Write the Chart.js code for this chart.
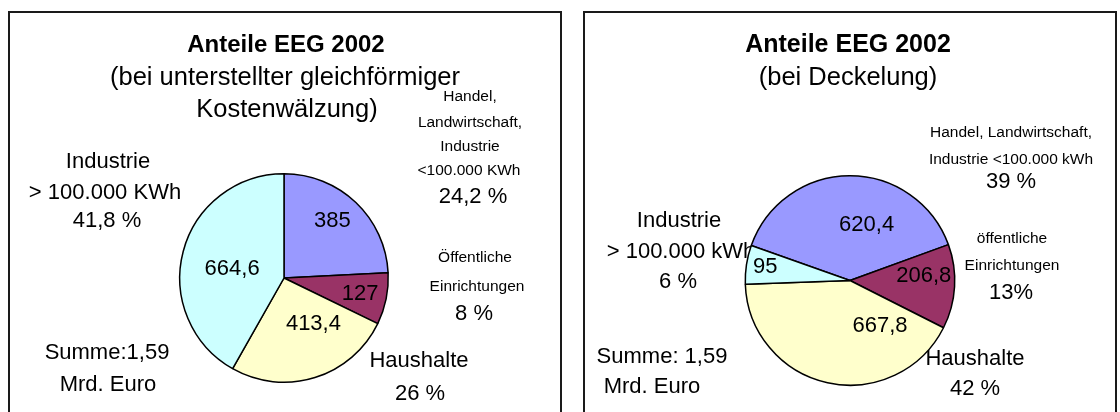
<!DOCTYPE html>
<html lang="de">
<head>
<meta charset="utf-8">
<title>Anteile EEG 2002</title>
<script src="https://cdn.jsdelivr.net/npm/chart.js@4.4.1/dist/chart.umd.min.js"></script>
<style>
  html, body { margin: 0; padding: 0; background: #fff; }
  body { width: 1120px; height: 412px; position: relative; overflow: hidden; }
  .panel { position: absolute; top: 11px; height: 430px; box-sizing: border-box;
           border: 2px solid #1a1a1a; background: #fff; }
  #panelLeft { left: 8px; width: 554px; }
  #panelRight { left: 583px; width: 534px; }
  canvas { position: absolute; top: 0; }
  #chartLeft { left: 0; }
  #chartRight { left: 560px; }
</style>
</head>
<body>
<div class="panel" id="panelLeft"></div>
<div class="panel" id="panelRight"></div>
<canvas id="chartLeft" width="560" height="412"></canvas>
<canvas id="chartRight" width="560" height="412"></canvas>
<script>
// --- data ---
const categories = [
    'Handel, Landwirtschaft, Industrie <100.000 kWh',
    'Öffentliche Einrichtungen',
    'Haushalte',
    'Industrie > 100.000 kWh'
];
const valuesGleich = [385, 127, 413.4, 664.6];   // Mio. Euro, gleichförmige Wälzung
const valuesDeckel = [620.4, 206.8, 667.8, 95];  // Mio. Euro, bei Deckelung
const sliceColors = ['#9999FF', '#993366', '#FFFFCC', '#CCFFFF'];

const FONT = '"Liberation Sans", Arial, Helvetica, sans-serif';

function fmt(v) {
    return String(v).replace('.', ',');
}

// texts around each pie (layout only)
const textLeft = [
    { text: 'Anteile EEG 2002', x: 286, y: 45, size: 24, bold: true },
    { text: '(bei unterstellter gleichförmiger', x: 285, y: 78, size: 25.5 },
    { text: 'Kostenwälzung)', x: 287, y: 110, size: 25.5 },
    { text: 'Handel,', x: 470, y: 97, size: 15.5 },
    { text: 'Landwirtschaft,', x: 470, y: 123, size: 15.5 },
    { text: 'Industrie', x: 470, y: 147, size: 15.5 },
    { text: '<100.000 KWh', x: 469, y: 171, size: 15.5 },
    { text: '24,2 %', x: 473, y: 197, size: 22 },
    { text: 'Industrie', x: 108, y: 162, size: 22 },
    { text: '> 100.000 KWh', x: 105, y: 193, size: 22 },
    { text: '41,8 %', x: 107, y: 221, size: 22 },
    { text: 'Öffentliche', x: 475, y: 258, size: 15.5 },
    { text: 'Einrichtungen', x: 477, y: 287, size: 15.5 },
    { text: '8 %', x: 474, y: 314, size: 22 },
    { text: 'Summe:1,59', x: 107, y: 353, size: 22 },
    { text: 'Mrd. Euro', x: 108, y: 385, size: 22 },
    { text: 'Haushalte', x: 419, y: 361, size: 22 },
    { text: '26 %', x: 420, y: 394, size: 22 }
];

const textRight = [
    { text: 'Anteile EEG 2002', x: 288, y: 45, size: 25, bold: true },
    { text: '(bei Deckelung)', x: 288, y: 78, size: 25.5 },
    { text: 'Handel, Landwirtschaft,', x: 451, y: 133, size: 15.5 },
    { text: 'Industrie <100.000 kWh', x: 451, y: 160, size: 15.5 },
    { text: '39 %', x: 451, y: 182, size: 22 },
    { text: 'Industrie', x: 119, y: 221, size: 22 },
    { text: '> 100.000 kWh', x: 121, y: 252, size: 22 },
    { text: '6 %', x: 118, y: 282, size: 22 },
    { text: 'öffentliche', x: 452, y: 239, size: 15.5 },
    { text: 'Einrichtungen', x: 452, y: 266, size: 15.5 },
    { text: '13%', x: 451, y: 293, size: 22 },
    { text: 'Summe: 1,59', x: 102, y: 357, size: 22 },
    { text: 'Mrd. Euro', x: 92, y: 387, size: 22 },
    { text: 'Haushalte', x: 415, y: 359, size: 22 },
    { text: '42 %', x: 415, y: 389, size: 22 }
];

// draws the free texts under the pie and the value labels on top of it
const panelText = {
    id: 'panelText',
    beforeDatasetsDraw(chart, args, opts) {
        const ctx = chart.ctx;
        ctx.save();
        ctx.fillStyle = '#000';
        ctx.textAlign = 'center';
        ctx.textBaseline = 'middle';
        opts.items.forEach(function(it) {
            ctx.font = (it.bold ? 'bold ' : '') + it.size + 'px ' + FONT;
            ctx.fillText(it.text, it.x, it.y);
        });
        ctx.restore();
    },
    afterDatasetsDraw(chart, args, opts) {
        const ctx = chart.ctx;
        const meta = chart.getDatasetMeta(0);
        const data = chart.data.datasets[0].data;
        ctx.save();
        ctx.fillStyle = '#000';
        ctx.textAlign = 'center';
        ctx.textBaseline = 'middle';
        ctx.font = '22px ' + FONT;
        meta.data.forEach(function(arc, i) {
            const p = arc.getProps(['x', 'y', 'startAngle', 'endAngle', 'outerRadius'], true);
            const pos = opts.labelPos[i];
            const a = (p.startAngle + p.endAngle) / 2 + pos[0] * Math.PI / 180;
            const r = p.outerRadius * pos[1];
            ctx.fillText(fmt(data[i]), p.x + Math.cos(a) * r, p.y + Math.sin(a) * r);
        });
        ctx.restore();
    }
};

function makePie(id, values, rotation, padding, texts, labelPos) {
    return new Chart(document.getElementById(id), {
        type: 'pie',
        data: {
            labels: categories,
            datasets: [{
                data: values,
                backgroundColor: sliceColors,
                borderColor: '#000000',
                borderWidth: 1.5
            }]
        },
        options: {
            responsive: false,
            animation: false,
            events: [],
            rotation: rotation,
            layout: { padding: padding },
            plugins: {
                legend: { display: false },
                tooltip: { enabled: false },
                title: { display: false },
                panelText: { items: texts, labelPos: labelPos }
            }
        },
        plugins: [panelText]
    });
}

makePie('chartLeft', valuesGleich, 0,
    { left: 179, right: 171, top: 173, bottom: 29 },
    textLeft,
    [[-3.5, 0.72], [0, 0.745], [-15.6, 0.52], [-4.8, 0.505]]);

makePie('chartRight', valuesDeckel, 289.5,
    { left: 184.5, right: 164.5, top: 175, bottom: 26 },
    textRight,
    [[17, 0.55], [-6.9, 0.705], [-45.9, 0.52], [0.6, 0.82]]);
</script>
</body>
</html>
